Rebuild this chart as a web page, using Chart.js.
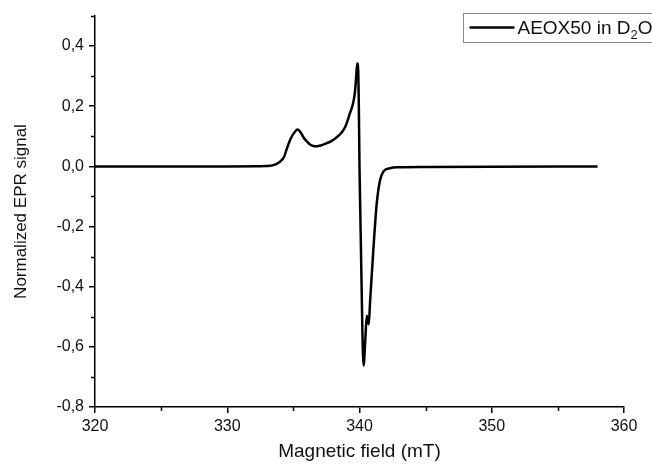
<!DOCTYPE html>
<html>
<head>
<meta charset="utf-8">
<script src="https://cdn.jsdelivr.net/npm/chart.js@4/dist/chart.umd.min.js"></script>
<style>
  html, body { margin: 0; padding: 0; background: #fff; }
  #wrap { width: 652px; height: 467px; }
</style>
</head>
<body>
<div id="wrap"><canvas id="c" width="652" height="467"></canvas></div>
<script>
// ---- data ----
const fieldMT = [320, 325, 330, 333, 333.5, 334.0, 334.3, 334.5, 334.75, 335.0, 335.33, 335.55, 335.76, 336.0, 336.26, 336.5, 336.77, 337.1, 337.53, 337.9, 338.28, 338.6, 338.91, 339.1, 339.24, 339.4, 339.54, 339.65, 339.72, 339.8, 339.84, 339.9, 339.95, 340.0, 340.08, 340.16, 340.22, 340.31, 340.44, 340.55, 340.62, 340.70, 340.8, 341.05, 341.31, 341.56, 341.81, 342.3, 343, 345, 350, 358];
const signal  = [0, 0, 0, 0.001, 0.004, 0.016, 0.032, 0.058, 0.088, 0.108, 0.123, 0.113, 0.097, 0.084, 0.073, 0.068, 0.067, 0.070, 0.077, 0.085, 0.097, 0.110, 0.130, 0.152, 0.172, 0.192, 0.215, 0.245, 0.280, 0.330, 0.342, 0.320, 0.200, 0.000, -0.200, -0.400, -0.550, -0.662, -0.575, -0.497, -0.510, -0.525, -0.450, -0.275, -0.120, -0.045, -0.017, -0.006, -0.003, -0.002, -0.001, 0];
const xTicks = [320, 330, 340, 350, 360];
const xMinor = [325, 335, 345, 355];
const yTicks = [-0.8, -0.6, -0.4, -0.2, 0, 0.2, 0.4];
const yMinor = [-0.7, -0.5, -0.3, -0.1, 0.1, 0.3, 0.5];
const seriesName = 'AEOX50 in D';
const seriesSub = '2';
const seriesTail = 'O';
const xTitle = 'Magnetic field (mT)';
const yTitle = 'Normalized EPR signal';

const FONT = "'Liberation Sans', Arial, sans-serif";
const points = fieldMT.map((x, i) => ({ x: x, y: signal[i] }));

const extras = {
  id: 'extras',
  afterDraw(chart) {
    const ctx = chart.ctx;
    const ca = chart.chartArea;
    const xs = chart.scales.x, ys = chart.scales.y;
    ctx.save();
    ctx.strokeStyle = '#000';
    ctx.lineWidth = 1.5;
    ctx.beginPath();
    xMinor.forEach(v => {
      const px = Math.round(xs.getPixelForValue(v)) + 0.5;
      ctx.moveTo(px, ca.bottom);
      ctx.lineTo(px, ca.bottom + 4);
    });
    yMinor.forEach(v => {
      const py = Math.round(ys.getPixelForValue(v)) + 0.5;
      ctx.moveTo(ca.left - 4, py);
      ctx.lineTo(ca.left, py);
    });
    ctx.stroke();

    // legend box
    const bx = 463.5, by = 13.5;
    ctx.strokeStyle = '#8a8a8a';
    ctx.lineWidth = 1;
    ctx.strokeRect(bx, by, 220, 29);
    ctx.strokeStyle = '#000';
    ctx.lineWidth = 2.5;
    ctx.beginPath();
    ctx.moveTo(bx + 6, by + 14);
    ctx.lineTo(bx + 51, by + 14);
    ctx.stroke();
    ctx.fillStyle = '#111';
    ctx.textBaseline = 'alphabetic';
    ctx.textAlign = 'left';
    ctx.font = '19px ' + FONT;
    let tx = bx + 54;
    const ty = by + 20;
    ctx.fillText(seriesName, tx, ty);
    tx += ctx.measureText(seriesName).width;
    ctx.font = '13px ' + FONT;
    ctx.fillText(seriesSub, tx, ty + 5);
    tx += ctx.measureText(seriesSub).width;
    ctx.font = '19px ' + FONT;
    ctx.fillText(seriesTail, tx, ty);
    ctx.restore();
  }
};

new Chart(document.getElementById('c'), {
  type: 'line',
  data: {
    datasets: [{
      label: seriesName + seriesSub + seriesTail,
      data: points,
      borderColor: '#000',
      borderWidth: 2.5,
      pointRadius: 0,
      fill: false,
      cubicInterpolationMode: 'monotone'
    }]
  },
  options: {
    responsive: false,
    devicePixelRatio: 1,
    animation: false,
    layout: { padding: { top: 16, right: 28, bottom: 0, left: 0 } },
    plugins: { legend: { display: false }, tooltip: { enabled: false } },
    scales: {
      x: {
        type: 'linear',
        min: 320, max: 360,
        afterBuildTicks: s => { s.ticks = xTicks.map(v => ({ value: v })); },
        afterFit: s => { s.height = 60; },
        ticks: { font: { family: FONT, size: 16 }, color: '#111', padding: 4, maxRotation: 0, autoSkip: false },
        grid: { drawOnChartArea: false, drawTicks: true, tickLength: 6, color: '#000', lineWidth: 1.5 },
        border: { display: true, color: '#000', width: 1.5 },
        title: { display: true, text: xTitle, font: { family: FONT, size: 19 }, color: '#111', padding: { top: 4, bottom: 4 } }
      },
      y: {
        type: 'linear',
        min: -0.8, max: 0.5,
        afterBuildTicks: s => { s.ticks = yTicks.map(v => ({ value: v })); },
        afterFit: s => { s.width = 95; },
        ticks: { font: { family: FONT, size: 16 }, color: '#111', padding: 5, callback: v => v.toFixed(1).replace('.', ',') },
        grid: { drawOnChartArea: false, drawTicks: true, tickLength: 6, color: '#000', lineWidth: 1.5 },
        border: { display: true, color: '#000', width: 1.5 },
        title: { display: true, text: yTitle, font: { family: FONT, size: 17 }, color: '#111', padding: { top: 11, bottom: 4 } }
      }
    }
  },
  plugins: [extras]
});
</script>
</body>
</html>
